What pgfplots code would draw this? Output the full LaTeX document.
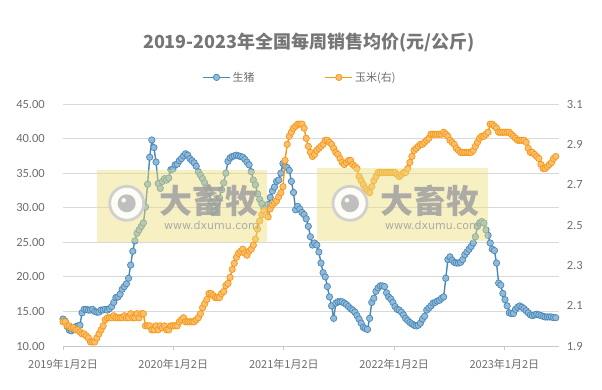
\documentclass[border=0pt]{standalone}
\usepackage{pgfplots}
\pgfplotsset{compat=1.18}
\usepackage{fontspec}
\setmainfont{Noto Sans CJK SC}
\newfontfamily\numfont{Carlito}
\newfontfamily\wmfont{DejaVu Sans}
\definecolor{pigline}{RGB}{72,136,182}
\definecolor{pigfill}{RGB}{145,185,218}
\definecolor{cornline}{RGB}{246,152,18}
\definecolor{cornfill}{RGB}{251,190,112}
\definecolor{gridgray}{RGB}{217,217,217}
\definecolor{axisgray}{RGB}{200,200,200}
\definecolor{labelgray}{RGB}{110,110,110}
\definecolor{titlegray}{RGB}{118,118,118}
\definecolor{wmyellow}{RGB}{236,222,120}
\definecolor{wmgray}{RGB}{160,160,160}

\pgfplotstableread{
w v
0 13.9
1 13.6
2 12.8
3 12.3
4 12.2
5 12.4
6 12.8
7 12.9
8 13.0
9 14.8
10 15.3
11 15.3
12 15.2
13 15.2
14 15.3
15 15.0
16 14.9
17 14.9
18 15.2
19 15.2
20 15.3
21 15.2
22 15.4
23 15.7
24 16.3
25 17.0
26 17.1
27 17.5
28 18.2
29 18.6
30 19.0
31 19.8
32 21.7
33 23.7
34 25.2
35 26.3
36 26.8
37 27.3
38 27.8
39 30.1
40 33.4
41 37.3
42 39.8
43 38.7
44 36.6
45 33.5
46 32.8
47 33.8
48 34.2
49 34.0
50 34.3
51 35.5
52 35.6
53 36.2
54 36.3
55 36.8
56 37.1
57 37.5
58 37.8
59 37.6
60 37.1
61 36.8
62 36.5
63 36.0
64 35.2
65 34.7
66 34.2
67 33.6
68 33.0
69 32.4
70 30.8
71 29.3
72 29.6
73 30.6
74 31.4
75 32.6
76 33.6
77 35.0
78 36.7
79 37.2
80 37.4
81 37.5
82 37.6
83 37.5
84 37.4
85 37.3
86 37.0
87 36.6
88 36.2
89 35.2
90 34.0
91 33.3
92 32.0
93 31.2
94 30.6
95 29.9
96 29.9
97 30.5
98 31.5
99 32.4
100 33.0
101 33.8
102 34.0
103 35.0
104 36.4
105 36.0
106 35.8
107 35.4
108 33.8
109 32.2
110 29.7
111 30.2
112 29.8
113 29.3
114 29.0
115 28.4
116 27.3
117 25.8
118 24.6
119 24.9
120 24.6
121 23.6
122 22.0
123 20.6
124 20.0
125 18.6
126 17.1
127 15.8
128 14.0
129 16.2
130 16.4
131 16.4
132 16.4
133 16.2
134 16.0
135 15.7
136 15.4
137 15.2
138 14.9
139 14.4
140 13.9
141 13.3
142 12.7
143 12.5
144 12.4
145 14.0
146 16.3
147 16.9
148 17.9
149 18.4
150 18.7
151 18.7
152 18.6
153 17.7
154 17.1
155 16.8
156 16.3
157 15.7
158 15.3
159 15.2
160 14.9
161 14.5
162 14.0
163 13.7
164 13.4
165 13.2
166 13.0
167 12.9
168 13.0
169 13.3
170 13.9
171 14.3
172 15.2
173 15.5
174 15.8
175 16.2
176 16.3
177 16.5
178 16.6
179 16.9
180 17.1
181 19.8
182 22.5
183 22.9
184 22.4
185 22.1
186 22.0
187 22.0
188 22.1
189 22.5
190 23.2
191 23.6
192 24.0
193 24.4
194 24.9
195 25.8
196 27.3
197 27.8
198 28.0
199 27.8
200 26.8
201 26.0
202 24.9
203 24.0
204 23.8
205 22.0
206 19.1
207 18.8
208 17.6
209 16.7
210 15.8
211 14.8
212 14.7
213 14.7
214 15.3
215 15.6
216 15.8
217 15.6
218 15.4
219 15.1
220 14.8
221 14.5
222 14.4
223 14.5
224 14.6
225 14.5
226 14.4
227 14.3
228 14.2
229 14.2
230 14.2
231 14.2
232 14.1
233 14.1
}\pigdata

\pgfplotstableread{
w v
0 2.02
1 2.02
2 2.00
3 2.00
4 1.99
5 1.99
6 1.98
7 1.98
8 1.97
9 1.96
10 1.96
11 1.95
12 1.94
13 1.92
14 1.92
15 1.92
16 1.94
17 1.96
18 1.98
19 2.00
20 2.03
21 2.04
22 2.04
23 2.04
24 2.05
25 2.04
26 2.04
27 2.04
28 2.04
29 2.05
30 2.04
31 2.04
32 2.06
33 2.04
34 2.04
35 2.06
36 2.04
37 2.06
38 2.06
39 2.00
40 2.00
41 2.00
42 1.98
43 1.98
44 2.00
45 1.98
46 2.00
47 1.99
48 2.00
49 1.98
50 1.98
51 2.00
52 2.00
53 2.00
54 2.00
55 2.02
56 2.03
57 2.04
58 2.02
59 2.02
60 2.02
61 2.02
62 2.02
63 2.03
64 2.04
65 2.06
66 2.09
67 2.11
68 2.13
69 2.16
70 2.16
71 2.15
72 2.14
73 2.14
74 2.14
75 2.16
76 2.17
77 2.20
78 2.21
79 2.24
80 2.28
81 2.31
82 2.34
83 2.36
84 2.37
85 2.38
86 2.36
87 2.35
88 2.37
89 2.38
90 2.40
91 2.43
92 2.48
93 2.52
94 2.55
95 2.57
96 2.55
97 2.54
98 2.58
99 2.60
100 2.61
101 2.62
102 2.64
103 2.66
104 2.69
105 2.82
106 2.90
107 2.94
108 2.96
109 2.98
110 2.99
111 3.00
112 3.00
113 3.00
114 2.98
115 2.93
116 2.89
117 2.86
118 2.84
119 2.85
120 2.87
121 2.88
122 2.89
123 2.90
124 2.92
125 2.92
126 2.91
127 2.90
128 2.88
129 2.86
130 2.85
131 2.83
132 2.81
133 2.80
134 2.81
135 2.82
136 2.82
137 2.80
138 2.79
139 2.78
140 2.74
141 2.72
142 2.70
143 2.68
144 2.67
145 2.66
146 2.69
147 2.72
148 2.74
149 2.76
150 2.76
151 2.76
152 2.76
153 2.76
154 2.76
155 2.76
156 2.76
157 2.76
158 2.75
159 2.74
160 2.75
161 2.76
162 2.76
163 2.78
164 2.81
165 2.84
166 2.87
167 2.88
168 2.89
169 2.90
170 2.90
171 2.91
172 2.92
173 2.93
174 2.95
175 2.95
176 2.95
177 2.95
178 2.95
179 2.95
180 2.96
181 2.95
182 2.94
183 2.92
184 2.91
185 2.90
186 2.88
187 2.87
188 2.86
189 2.86
190 2.86
191 2.86
192 2.86
193 2.86
194 2.87
195 2.89
196 2.91
197 2.93
198 2.94
199 2.94
200 2.95
201 2.96
202 3.00
203 3.00
204 2.99
205 2.98
206 2.96
207 2.96
208 2.96
209 2.96
210 2.96
211 2.96
212 2.95
213 2.94
214 2.93
215 2.92
216 2.92
217 2.92
218 2.92
219 2.91
220 2.88
221 2.86
222 2.86
223 2.85
224 2.84
225 2.83
226 2.80
227 2.78
228 2.78
229 2.79
230 2.80
231 2.81
232 2.83
233 2.84
}\corndata

\pgfplotsset{
  pigstyle/.style={color=pigline, line width=1.4pt, mark=*, mark size=3.2pt,
    mark options={fill=pigfill, draw=pigline, line width=0.7pt}},
  cornstyle/.style={color=cornline, line width=1.4pt, mark=*, mark size=3.2pt,
    mark options={fill=cornfill, draw=cornline, line width=0.7pt}},
  common/.style={at={(63pt,44pt)}, anchor=south west, width=495.7pt, height=242pt,
    scale only axis, xmin=0, xmax=234.4, clip=false,
    /pgf/number format/assume math mode=true},
}

\begin{document}
\begin{tikzpicture}[x=1pt,y=1pt]
\useasboundingbox (0,0) rectangle (602,390);
\node[font=\bfseries\fontsize{18}{20}\selectfont, text=titlegray] at (309,347) {2019-2023年全国每周销售均价(元/公斤)};

\begin{axis}[common,
  ymin=10, ymax=45, ytick={10,15,20,25,30,35,40,45},
  scaled y ticks=false,
  yticklabel={\pgfmathprintnumber[fixed,fixed zerofill,precision=2]{\tick}},
  axis x line*=bottom, axis y line*=left,
  y axis line style={draw=none},
  x axis line style={draw=axisgray, line width=0.8pt},
  ymajorgrids, grid style={gridgray, line width=0.8pt},
  ytick style={draw=none},
  xtick={0,52.143,104.429,156.571,208.714},
  xticklabels={2019年1月2日,2020年1月2日,2021年1月2日,2022年1月2日,2023年1月2日},
  xtick style={draw=axisgray, line width=0.8pt},
  tick align=outside, major tick length=4pt,
  xticklabel style={font=\fontsize{11}{11}\selectfont, text=labelgray, inner sep=0pt, yshift=-9pt},
  yticklabel style={font=\numfont\fontsize{12.5}{12.5}\selectfont, text=labelgray, inner sep=0pt, xshift=-14pt},
  legend columns=2,
  legend style={at={(0.478,1.11)}, anchor=center, draw=none, fill=none,
    font=\fontsize{11}{11}\selectfont, text=labelgray,
    /tikz/every even column/.append style={column sep=68pt}},
  legend image code/.code={\draw[mark repeat=2,mark phase=2,#1] plot coordinates {(0pt,0pt) (13.5pt,0pt) (27pt,0pt)};},
]
\addplot[pigstyle] table[x=w,y=v]{\pigdata};
\addlegendentry{生猪}
\addlegendimage{cornstyle}
\addlegendentry{玉米(右)}
\end{axis}

\begin{axis}[common,
  ymin=1.9, ymax=3.1, ytick={1.9,2.1,2.3,2.5,2.7,2.9,3.1},
  yticklabel={\pgfmathprintnumber[fixed,fixed zerofill,precision=1]{\tick}},
  axis y line*=right, axis x line=none,
  y axis line style={draw=none}, ytick style={draw=none},
  yticklabel style={font=\numfont\fontsize{12.5}{12.5}\selectfont, text=labelgray, inner sep=0pt, xshift=8pt},
]
\addplot[cornstyle] table[x=w,y=v]{\corndata};
\end{axis}

% watermark overlays
\fill[wmyellow, opacity=0.45] (97,148) rectangle (267,220);
\fill[wmyellow, opacity=0.45] (317,149) rectangle (488,222);
\foreach \cx/\tx in {126.7/208.5, 350/429.5}{
  \fill[white, opacity=0.85] (\cx,186.7) circle (18);
  \draw[gray!40, line width=2.8pt, opacity=0.9] (\cx,186.7) circle (17);
  \fill[gray!55, opacity=0.9] (\cx,186.7) circle (9);
  \fill[white, opacity=0.9] (\cx-3,189.7) circle (2.3);
  \node[font=\bfseries\fontsize{33}{35}\selectfont, text=wmgray, opacity=0.85] at (\tx,189) {大畜牧};
  \node[font=\wmfont\fontsize{11}{11}\selectfont, text=wmgray, opacity=0.85] at (\tx+3,165) {www.dxumu.com};
}
\end{tikzpicture}
\end{document}
